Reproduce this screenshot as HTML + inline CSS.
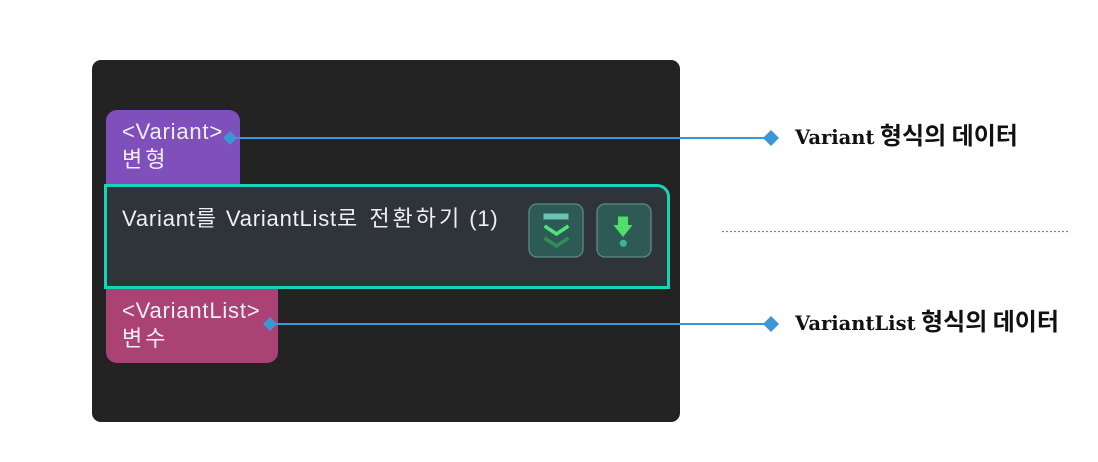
<!DOCTYPE html>
<html>
<head>
<meta charset="utf-8">
<style>
  html,body{margin:0;padding:0;background:#ffffff;}
  body{width:1098px;height:462px;position:relative;overflow:hidden;}
  .abs{position:absolute;}
  .panel{left:92px;top:60px;width:588px;height:362px;background:#232323;border-radius:9px;}
  .purple{left:106px;top:110px;width:134px;height:76px;background:#7f4fbb;border-radius:11px 11px 0 0;}
  .pink{left:106px;top:287px;width:172px;height:76px;background:#ab4274;border-radius:0 0 11px 11px;}
  .node{left:104px;top:184px;width:560px;height:99px;background:#2f3439;border:3px solid #17d4b4;border-radius:0 13px 0 0;}
  .t{font-family:"Liberation Sans","Noto Sans CJK KR",sans-serif;font-size:22px;color:#f1eef6;letter-spacing:0.8px;white-space:nowrap;line-height:28px;}
  .k{letter-spacing:3px;}
  .lbl{white-space:nowrap;color:#111;line-height:30px;}
  .lbl .s{font-family:"DejaVu Serif",serif;font-weight:bold;font-size:19.5px;}
  .lbl .h{font-family:"Noto Sans CJK KR","Liberation Sans",sans-serif;font-weight:bold;font-size:24px;}
  svg{position:absolute;left:0;top:0;}
</style>
</head>
<body>
  <div class="abs panel"></div>
  <div class="abs purple"></div>
  <div class="abs pink"></div>
  <div class="abs node"></div>

  <div class="abs t" style="left:122px;top:118px;">&lt;Variant&gt;<br><span class="k">변형</span></div>
  <div class="abs t" style="left:122px;top:205px;">Variant<span class="k">를</span> VariantList<span class="k">로 전환하기</span> (1)</div>
  <div class="abs t" style="left:122px;top:297px;">&lt;VariantList&gt;<br><span class="k">변수</span></div>

  <svg width="1098" height="462" viewBox="0 0 1098 462">
    <line x1="230" y1="138" x2="771" y2="138" stroke="#3d95d4" stroke-width="2"/>
    <line x1="270" y1="324" x2="771" y2="324" stroke="#3d95d4" stroke-width="2"/>
    <polygon points="230,131 237,138 230,145 223,138" fill="#3d95d4"/>
    <polygon points="771,130 779,138 771,146 763,138" fill="#3d95d4"/>
    <polygon points="270,317 277,324 270,331 263,324" fill="#3d95d4"/>
    <polygon points="771,316 779,324 771,332 763,324" fill="#3d95d4"/>
    <line x1="722" y1="231.5" x2="1069" y2="231.5" stroke="#858585" stroke-width="1.3" stroke-dasharray="2,2"/>

    <rect x="529" y="204" width="54" height="53" rx="8" fill="#2d5a55" stroke="#5f8a85" stroke-width="1.3"/>
    <rect x="543.5" y="213.5" width="25" height="6" fill="#6cc2b5"/>
    <polyline points="544.5,226 556.5,234 568.5,226" fill="none" stroke="#4fe274" stroke-width="3.5"/>
    <polyline points="544.5,238 556.5,246 568.5,238" fill="none" stroke="#2f8f56" stroke-width="3.5"/>

    <rect x="597" y="204" width="54" height="53" rx="8" fill="#2d5a55" stroke="#5f8a85" stroke-width="1.3"/>
    <rect x="618" y="216.5" width="10" height="9" fill="#4fe06a"/>
    <polygon points="613.5,225 632.5,225 623,237" fill="#4fe06a"/>
    <circle cx="623.3" cy="243.3" r="3.6" fill="#3ab49c"/>
  </svg>

  <div class="abs lbl" style="left:795px;top:119px;"><span class="s">Variant</span><span class="h"> 형식의 데이터</span></div>
  <div class="abs lbl" style="left:795px;top:305px;"><span class="s">VariantList</span><span class="h"> 형식의 데이터</span></div>
</body>
</html>
